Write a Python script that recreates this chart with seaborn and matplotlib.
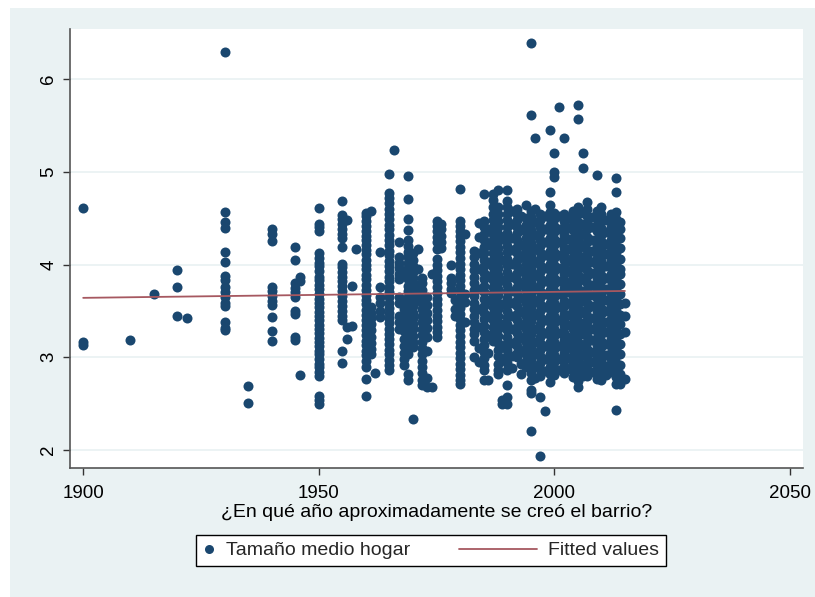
import matplotlib
matplotlib.use('Agg')
import matplotlib.pyplot as plt
from matplotlib.lines import Line2D
from matplotlib.legend_handler import HandlerBase
from matplotlib.patches import Rectangle
import seaborn as sns
import pandas as pd

sns.set_style('white')
plt.rcParams['font.family'] = ['Liberation Sans', 'DejaVu Sans']

NAVY = '#1A476F'
MAROON = '#A65860'
BG = '#EAF2F3'

# household size by founding year of the neighbourhood
y1900 = [4.61, 3.17, 3.13]
y1910 = [3.19]
y1915 = [3.68]
y1920 = [3.94, 3.76, 3.45]
y1922 = [3.42]
y1930 = [6.29, 4.57, 4.46, 4.39, 4.14, 4.03, 3.88, 3.83, 3.76, 3.70, 3.65, 3.59, 3.55, 3.38, 3.32, 3.29]
y1935 = [2.69, 2.51]
y1940 = [4.38, 4.33, 4.25, 3.76, 3.71, 3.66, 3.61, 3.56, 3.43, 3.28, 3.18]
y1945 = [4.19, 4.05, 3.80, 3.75, 3.70, 3.65, 3.50, 3.47, 3.22, 3.19]
y1946 = [3.87, 3.82, 2.81]
y1950 = [4.61, 4.44, 4.40, 4.36, 4.12, 4.07, 4.02, 3.98, 3.93, 3.87, 3.83, 3.78, 3.74, 3.68, 3.63,
         3.59, 3.54, 3.49, 3.45, 3.40, 3.35, 3.31, 3.26, 3.21, 3.17, 3.12, 3.07, 3.03, 2.98, 2.93,
         2.89, 2.84, 2.80, 2.58, 2.54, 2.50]
y1955 = [4.68, 4.53, 4.49, 4.44, 4.38, 4.33, 4.29, 4.19, 4.01, 3.97, 3.92, 3.87, 3.82, 3.77, 3.71,
         3.66, 3.61, 3.55, 3.50, 3.45, 3.40, 3.07, 2.94]
y1956 = [4.48, 3.33, 3.20]
y1957 = [3.77, 3.34]
y1958 = [4.17]
y1960 = [4.56, 4.52, 4.47, 4.42, 4.36, 4.31, 4.27, 4.21, 4.16, 4.11, 4.05, 4.00, 3.95, 3.89, 3.84,
         3.78, 3.73, 3.67, 3.62, 3.57, 3.51, 3.46, 3.40, 3.35, 3.29, 3.24, 3.18, 3.13, 3.07, 3.02,
         2.96, 2.89, 2.77, 2.58]
y1961 = [4.58, 3.54, 3.48, 3.42, 3.36, 3.29, 3.22, 3.15, 3.09, 3.04]
y1962 = [2.83]
y1963 = [4.13, 3.76, 3.65, 3.58, 3.50, 3.43]
y1965 = [4.98, 4.77, 4.72, 4.66, 4.60, 4.55, 4.49, 4.43, 4.38, 4.32, 4.27, 4.21, 4.15, 4.10, 4.04,
         3.98, 3.93, 3.87, 3.82, 3.76, 3.70, 3.65, 3.59, 3.53, 3.48, 3.42, 3.37, 3.31, 3.25, 3.20,
         3.14, 3.08, 3.03, 2.97, 2.92, 2.86]
y1966 = [5.23]
y1967 = [4.24, 4.08, 4.02, 3.96, 3.90, 3.84, 3.65, 3.58, 3.45, 3.38, 3.31]
y1968 = [3.90, 3.60, 3.52, 3.44, 3.36, 3.28, 3.20, 3.12, 3.05, 2.98, 2.92]
y1969 = [4.95, 4.71, 4.49, 4.37, 4.26, 4.20, 4.14, 4.08, 4.02, 3.96, 3.90, 3.84, 3.77, 3.71, 3.65,
         3.59, 3.52, 3.46, 3.40, 3.34, 3.27, 3.21, 3.15, 3.09, 3.04, 2.82, 2.75]
y1970 = [4.12, 4.05, 3.98, 3.92, 3.86, 3.79, 3.73, 3.67, 3.61, 3.55, 3.48, 3.42, 3.36, 3.30, 3.23,
         3.17, 3.11, 2.33]
y1971 = [4.17, 3.95, 3.78, 3.70, 3.62]
y1972 = [3.86, 3.80, 3.73, 3.66, 3.59, 3.52, 3.45, 3.38, 3.31, 3.24, 3.17, 3.10, 3.03, 2.96, 2.89,
         2.83, 2.76, 2.70]
y1973 = [3.65, 3.56, 3.48, 3.40, 3.32, 3.22, 3.07, 2.78, 2.68]
y1974 = [3.90, 2.68]
y1975 = [4.47, 4.42, 4.36, 4.30, 4.24, 4.17, 4.06, 4.00, 3.94, 3.88, 3.82, 3.76, 3.69, 3.63, 3.57,
         3.51, 3.45, 3.39, 3.33, 3.27, 3.22]
y1976 = [4.44, 4.38, 4.31, 4.24, 4.18]
y1978 = [4.00, 3.86, 3.80, 3.74, 3.69]
y1979 = [3.62, 3.52, 3.45]
y1980 = [4.82, 4.47, 4.42, 4.36, 4.31, 4.25, 4.19, 4.13, 4.07, 4.01, 3.95, 3.89, 3.83, 3.77, 3.71,
         3.65, 3.59, 3.53, 3.47, 3.41, 3.35, 3.29, 3.23, 3.17, 3.11, 3.05, 2.99, 2.93, 2.87, 2.81,
         2.76, 2.71]
y1981 = [4.33, 3.68, 3.60, 3.38]
y1983 = [4.15, 4.08, 4.01, 3.94, 3.87, 3.80, 3.73, 3.66, 3.59, 3.52, 3.45, 3.38, 3.31, 3.25, 3.18, 3.00]
y1984 = [4.45, 4.30, 4.12, 3.95, 3.74, 3.52, 3.33, 3.10, 2.95]
y1985 = [4.76, 4.47, 4.40, 4.33, 4.27, 4.19, 4.12, 4.05, 3.98, 3.91, 3.84, 3.77, 3.70, 3.63, 3.55,
         3.48, 3.41, 3.34, 3.27, 3.20, 3.13, 3.06, 2.99, 2.92, 2.86, 2.76]
y1986 = [4.38, 4.21, 4.03, 3.88, 3.62, 3.45, 3.24, 3.05, 2.75]
y1987 = [4.76, 4.70, 4.62, 4.55, 4.48, 4.41, 4.33, 4.26, 4.19, 4.12, 4.05, 3.97, 3.90, 3.83, 3.76,
         3.69, 3.61, 3.54, 3.47, 3.40, 3.33, 3.25, 3.18]
y1988 = [4.80, 4.62, 4.55, 4.47, 4.40, 4.33, 4.25, 4.18, 4.11, 4.03, 3.96, 3.89, 3.81, 3.74, 3.67,
         3.59, 3.52, 3.45, 3.37, 3.30, 3.23, 3.15, 3.08, 3.01, 2.93, 2.86, 2.82]
y1989 = [4.28, 4.05, 3.83, 3.57, 3.36, 3.12, 2.98, 2.54, 2.50]
y1990 = [4.80, 4.69, 4.62, 4.55, 4.48, 4.41, 4.34, 4.27, 4.20, 4.13, 4.06, 3.99, 3.92, 3.85, 3.78,
         3.71, 3.64, 3.57, 3.50, 3.43, 3.36, 3.29, 3.22, 3.15, 3.08, 3.01, 2.94, 2.86, 2.70, 2.57, 2.50]
y1991 = [4.58, 4.44, 4.29, 4.16, 4.01, 3.87, 3.72, 3.58, 3.44, 3.30, 3.15, 3.01, 2.88]
y1992 = [4.60, 4.55, 4.48, 4.41, 4.34, 4.26, 4.19, 4.12, 4.05, 3.98, 3.91, 3.83, 3.76, 3.69, 3.62,
         3.55, 3.47, 3.40, 3.33, 3.26, 3.19, 3.12, 3.05, 3.00]
y1993 = [4.52, 4.37, 4.21, 4.08, 3.93, 3.79, 3.64, 3.49, 3.35, 3.21, 3.06, 2.93, 2.82]
y1994 = [4.64, 4.50, 4.43, 4.36, 4.29, 4.22, 4.15, 4.08, 4.01, 3.94, 3.87, 3.80, 3.73, 3.66, 3.59,
         3.52, 3.45, 3.38, 3.31, 3.24, 3.17, 3.10, 3.03, 2.96, 2.90]
y1995 = [6.39, 5.61, 4.58, 4.51, 4.44, 4.37, 4.30, 4.23, 4.16, 4.09, 4.02, 3.95, 3.88, 3.81, 3.74,
         3.67, 3.60, 3.53, 3.46, 3.39, 3.32, 3.25, 3.18, 3.11, 3.04, 2.97, 2.90, 2.83, 2.75, 2.65,
         2.61, 2.21]
y1996 = [5.36, 4.60, 4.46, 4.32, 4.17, 4.03, 3.89, 3.74, 3.60, 3.46, 3.31, 3.17, 3.03, 2.89, 2.78]
y1997 = [4.55, 4.48, 4.41, 4.34, 4.27, 4.20, 4.13, 4.06, 3.99, 3.92, 3.85, 3.78, 3.71, 3.64, 3.57,
         3.50, 3.43, 3.36, 3.29, 3.22, 3.15, 3.08, 3.01, 2.94, 2.87, 2.80, 2.57, 1.94]
y1998 = [4.52, 4.38, 4.24, 4.10, 3.96, 3.82, 3.68, 3.54, 3.40, 3.26, 3.12, 2.98, 2.85, 2.42]
y1999 = [5.45, 4.78, 4.64, 4.57, 4.50, 4.43, 4.36, 4.29, 4.22, 4.15, 4.08, 4.01, 3.94, 3.87, 3.80,
         3.73, 3.66, 3.59, 3.52, 3.45, 3.38, 3.31, 3.24, 3.17, 3.10, 3.03, 2.96, 2.89, 2.82, 2.73]
y2000 = [5.20, 5.00, 4.94, 4.56, 4.49, 4.42, 4.35, 4.28, 4.21, 4.14, 4.07, 4.00, 3.93, 3.86, 3.79,
         3.72, 3.65, 3.58, 3.51, 3.44, 3.37, 3.30, 3.23, 3.16, 3.09, 3.02, 2.95, 2.88, 2.81]
y2001 = [5.70, 4.52, 4.38, 4.24, 4.10, 3.96, 3.82, 3.68, 3.54, 3.40, 3.26, 3.12, 2.98, 2.86]
y2002 = [5.36, 4.55, 4.47, 4.41, 4.32, 4.26, 4.18, 4.11, 4.05, 3.96, 3.90, 3.83, 3.75, 3.69, 3.61,
         3.55, 3.47, 3.40, 3.34, 3.26, 3.19, 3.12, 3.05, 2.97, 2.91, 2.83]
y2003 = [4.50, 4.39, 4.28, 4.17, 4.04, 3.93, 3.80, 3.70, 3.58, 3.46, 3.35, 3.22, 3.11, 2.99, 2.87]
y2004 = [4.58, 4.52, 4.43, 4.37, 4.29, 4.22, 4.16, 4.08, 4.01, 3.94, 3.87, 3.79, 3.73, 3.66, 3.58,
         3.51, 3.44, 3.37, 3.30, 3.22, 3.16, 3.08, 3.01, 2.94, 2.86, 2.79]
y2005 = [5.72, 5.57, 4.62, 4.54, 4.46, 4.40, 4.31, 4.25, 4.17, 4.10, 4.03, 3.95, 3.89, 3.81, 3.74,
         3.68, 3.60, 3.53, 3.46, 3.38, 3.32, 3.24, 3.17, 3.10, 3.02, 2.96, 2.88, 2.81, 2.74, 2.68]
y2006 = [5.20, 5.04, 4.56, 4.44, 4.33, 4.20, 4.08, 3.97, 3.85, 3.72, 3.61, 3.49, 3.37, 3.25, 3.13,
         3.02, 2.90, 2.80]
y2007 = [4.67, 4.60, 4.52, 4.45, 4.38, 4.30, 4.24, 4.16, 4.09, 4.02, 3.94, 3.88, 3.80, 3.73, 3.66,
         3.59, 3.52, 3.44, 3.38, 3.30, 3.23, 3.16, 3.09, 3.01, 2.95, 2.87, 2.80]
y2008 = [4.51, 4.40, 4.27, 4.15, 4.03, 3.91, 3.78, 3.67, 3.55, 3.42, 3.31, 3.19, 3.06, 2.95, 2.84]
y2009 = [4.97, 4.58, 4.50, 4.43, 4.36, 4.28, 4.21, 4.14, 4.07, 3.99, 3.92, 3.86, 3.78, 3.71, 3.64,
         3.56, 3.50, 3.42, 3.35, 3.28, 3.21, 3.13, 3.07, 2.99, 2.92, 2.85, 2.77]
y2010 = [4.62, 4.54, 4.47, 4.39, 4.32, 4.25, 4.18, 4.10, 4.04, 3.96, 3.89, 3.82, 3.75, 3.68, 3.61,
         3.53, 3.47, 3.39, 3.32, 3.25, 3.18, 3.11, 3.04, 2.96, 2.90, 2.82, 2.75]
y2011 = [4.48, 4.35, 4.22, 4.11, 3.98, 3.86, 3.74, 3.62, 3.50, 3.38, 3.27, 3.14, 3.02, 2.91, 2.81]
y2012 = [4.55, 4.48, 4.40, 4.33, 4.26, 4.19, 4.12, 4.05, 3.98, 3.90, 3.83, 3.76, 3.69, 3.62, 3.55,
         3.48, 3.41, 3.34, 3.27, 3.20, 3.12, 3.05, 2.98, 2.91, 2.84]
y2013 = [4.93, 4.78, 4.57, 4.49, 4.42, 4.35, 4.27, 4.20, 4.13, 4.06, 3.99, 3.92, 3.85, 3.78, 3.71,
         3.64, 3.57, 3.50, 3.43, 3.36, 3.29, 3.22, 3.15, 3.08, 3.01, 2.94, 2.87, 2.79, 2.71, 2.43]
y2014 = [4.46, 4.38, 4.29, 4.18, 4.06, 3.95, 3.90, 3.79, 3.68, 3.57, 3.46, 3.36, 3.25, 3.14, 3.03,
         2.92, 2.82, 2.71]
y2015 = [3.59, 3.45, 3.27, 2.77]

columns = {
    1900: y1900, 1910: y1910, 1915: y1915, 1920: y1920, 1922: y1922, 1930: y1930, 1935: y1935,
    1940: y1940, 1945: y1945, 1946: y1946, 1950: y1950, 1955: y1955, 1956: y1956, 1957: y1957,
    1958: y1958, 1960: y1960, 1961: y1961, 1962: y1962, 1963: y1963, 1965: y1965, 1966: y1966,
    1967: y1967, 1968: y1968, 1969: y1969, 1970: y1970, 1971: y1971, 1972: y1972, 1973: y1973,
    1974: y1974, 1975: y1975, 1976: y1976, 1978: y1978, 1979: y1979, 1980: y1980, 1981: y1981,
    1983: y1983, 1984: y1984, 1985: y1985, 1986: y1986, 1987: y1987, 1988: y1988, 1989: y1989,
    1990: y1990, 1991: y1991, 1992: y1992, 1993: y1993, 1994: y1994, 1995: y1995, 1996: y1996,
    1997: y1997, 1998: y1998, 1999: y1999, 2000: y2000, 2001: y2001, 2002: y2002, 2003: y2003,
    2004: y2004, 2005: y2005, 2006: y2006, 2007: y2007, 2008: y2008, 2009: y2009, 2010: y2010,
    2011: y2011, 2012: y2012, 2013: y2013, 2014: y2014, 2015: y2015,
}

x_ticks = [1900, 1950, 2000, 2050]
y_ticks = [2, 3, 4, 5, 6]
x_label = '¿En qué año aproximadamente se creó el barrio?'
legend_labels = ['Tamaño medio hogar', 'Fitted values']

df = pd.DataFrame([{'year': yr, 'size': v} for yr, vals in columns.items() for v in vals])


class LongLineHandler(HandlerBase):
    # line that reaches further left than the (short) handle box
    def create_artists(self, legend, orig_handle, xdescent, ydescent, width, height, fontsize, trans):
        y = (height - ydescent) / 2.0
        line = Line2D([-xdescent - 3.4 * fontsize, width - xdescent], [y, y],
                      color=orig_handle.get_color(), lw=orig_handle.get_linewidth())
        line.set_transform(trans)
        return [line]


fig = plt.figure(figsize=(8.15, 5.97), dpi=100)
fig.patch.set_facecolor('white')
fig.patches.append(Rectangle((10 / 815, 0), 1, 1 - 8 / 597, transform=fig.transFigure,
                             facecolor=BG, edgecolor='none', zorder=-1))
ax = fig.add_axes([70 / 815, 1 - 468 / 597, 733 / 815, 439 / 597])
ax.set_facecolor('white')

sns.scatterplot(data=df, x='year', y='size', ax=ax, color=NAVY, s=52, linewidth=0,
                legend=False, zorder=3)
sns.regplot(data=df, x='year', y='size', ax=ax, scatter=False, ci=None, color=MAROON,
            line_kws={'lw': 1.3, 'zorder': 4})

ax.set_xlim(1897.2, 2052.8)
ax.set_ylim(1.806, 6.54)
ax.set_xticks(x_ticks)
ax.set_yticks(y_ticks)
ax.yaxis.grid(True, color=BG, lw=1.3)
ax.xaxis.grid(False)
ax.set_axisbelow(True)
for side in ['top', 'right']:
    ax.spines[side].set_visible(False)
for side in ['left', 'bottom']:
    ax.spines[side].set_color('#555555')
    ax.spines[side].set_linewidth(1.2)
ax.tick_params(bottom=True, left=True, direction='out', length=5, width=1, color='#333333',
               labelsize=13.5, labelcolor='black')
ax.tick_params(axis='x', pad=7)
ax.tick_params(axis='y', labelrotation=90, pad=4)
for lbl in ax.get_yticklabels():
    lbl.set_va('center')
ax.set_xlabel(x_label, fontsize=14, labelpad=2, color='black')
ax.set_ylabel('')

h1 = Line2D([], [], marker='o', ls='none', color=NAVY, markersize=6.5, markeredgewidth=0)
h2 = Line2D([], [], color=MAROON, lw=1.3)
leg = fig.legend(handles=[h1, h2], labels=legend_labels, loc='upper left',
                 bbox_to_anchor=(196 / 815, 1 - 535 / 597), ncol=2, fontsize=14,
                 frameon=True, fancybox=False, edgecolor='black', facecolor='white',
                 framealpha=1, borderpad=0.35, handlelength=0.6, handletextpad=0.6,
                 columnspacing=5.9, borderaxespad=0, handler_map={h2: LongLineHandler()})
leg.get_frame().set_linewidth(1.0)

fig.savefig('out.png', dpi=100, facecolor=fig.get_facecolor())
